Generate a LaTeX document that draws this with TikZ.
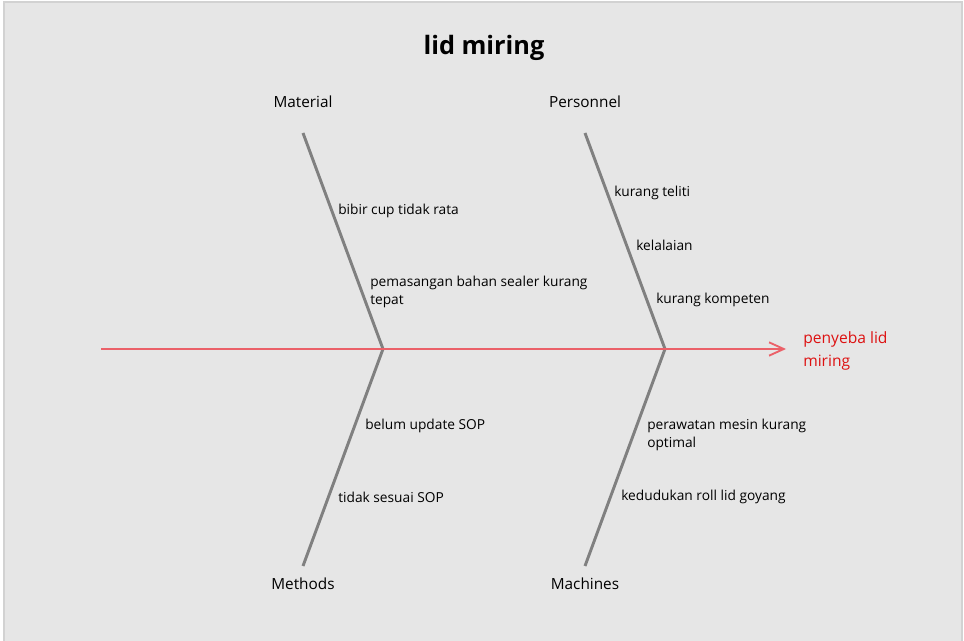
\documentclass[tikz,border=0pt]{standalone}
\usepackage{fontspec}
\setmainfont{Open Sans}
\usetikzlibrary{arrows.meta,positioning}

\definecolor{bggray}{HTML}{E6E6E6}
\definecolor{edgegray}{HTML}{D2D2D2}
\definecolor{bonegray}{HTML}{808080}
\definecolor{spinered}{HTML}{EB6169}
\definecolor{effectred}{HTML}{DD1111}

\tikzset{
  bone/.style={draw=bonegray, line width=2.2pt},
  spine/.style={draw=spinered, line width=2.2pt, -{Straight Barb[length=11pt,width=10pt,line width=1.4pt]}},
  cat/.style={font=\fontsize{11.5}{14}\selectfont, inner sep=0pt},
  cause/.style={font=\fontsize{10.3}{13.5}\selectfont, anchor=west, align=left, inner sep=0pt},
  effect/.style={font=\fontsize{11.7}{17}\selectfont, text=effectred, anchor=west, align=left, inner sep=0pt}
}

\begin{document}
\begin{tikzpicture}[x=0.75pt,y=-0.75pt]
        \useasboundingbox (0,0) rectangle (964,641);
        \fill[white] (0,0) rectangle (964,641);
        \filldraw[fill=bggray, draw=edgegray, line width=0.8pt] (4,2) rectangle (962,645);

        % title
        \node[font=\bfseries\fontsize{19}{22}\selectfont, inner sep=0pt] (title) at (484,48) {lid miring};

        % bones
        \coordinate (j1) at (383,349);
        \coordinate (j2) at (665,349);
        \coordinate (mat) at (303,133);
        \coordinate (per) at (585,133);
        \coordinate (met) at (303,566);
        \coordinate (mac) at (585,566);
        \draw[bone] (mat) -- (j1);
        \draw[bone] (per) -- (j2);
        \draw[bone] (j1) -- (met);
        \draw[bone] (j2) -- (mac);

        % spine
        \coordinate (tail) at (101,349);
        \coordinate (head) at (786,349);
        \draw[spine] (tail) -- (head);
        \node[effect] (eff) at (803,351) {penyeba lid\\miring};

        \node[cat] (lmat) at (303,102) {Material};
        \node[cat] (lper) at (585,102) {Personnel};
        \node[cat] (lmet) at (303,584) {Methods};
        \node[cat] (lmac) at (585,584) {Machines};

        % causes
        \node[cause] (c1) at (338,211) {bibir cup tidak rata};
        \node[cause] (c2) at (370,292) {pemasangan bahan sealer kurang\\tepat};
        \node[cause] (c3) at (614,193) {kurang teliti};
        \node[cause] (c4) at (636,245) {kelalaian};
        \node[cause] (c5) at (656,300) {kurang kompeten};
        \node[cause] (c6) at (365,426) {belum update SOP};
        \node[cause] (c7) at (338,497) {tidak sesuai SOP};
        \node[cause] (c8) at (647,435) {perawatan mesin kurang\\optimal};
        \node[cause] (c9) at (621,497) {kedudukan roll lid goyang};
\end{tikzpicture}
\end{document}
